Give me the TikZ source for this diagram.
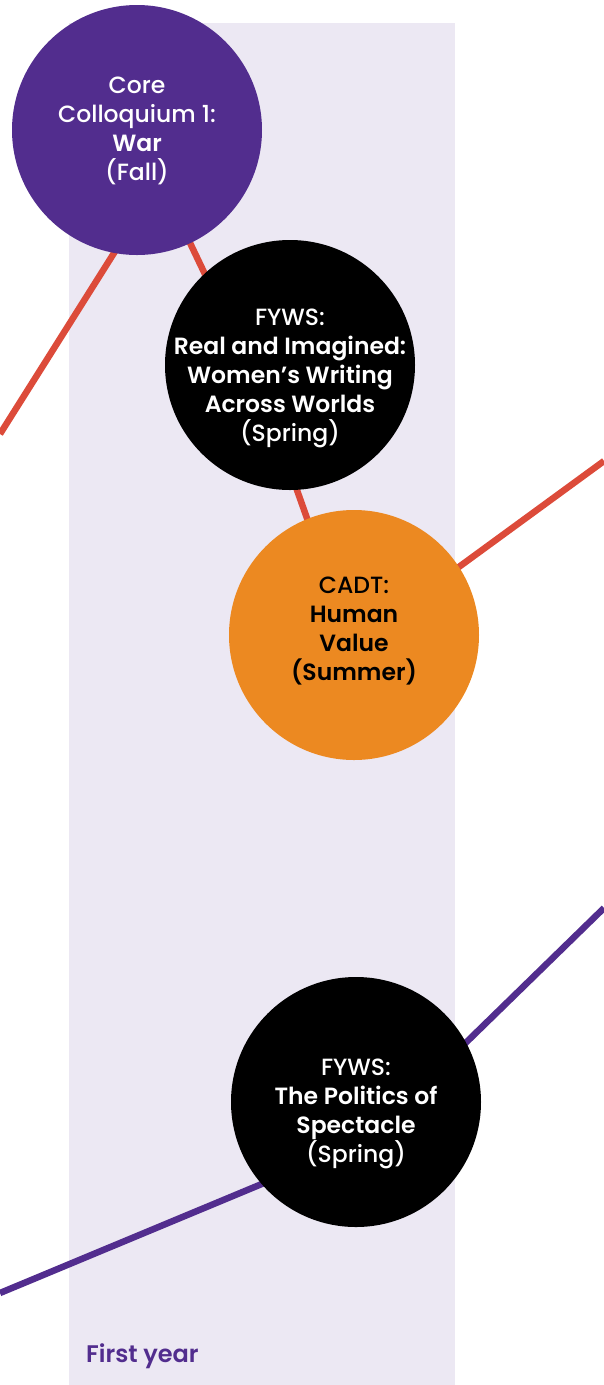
\documentclass[tikz,border=0pt]{standalone}
\usepackage{fontspec}
\setmainfont{Poppins}[UprightFont=* Medium, BoldFont=* SemiBold]
\usetikzlibrary{calc}
\definecolor{corepurple}{HTML}{522D8E}
\definecolor{trackred}{HTML}{DC4B3A}
\definecolor{cadtorange}{HTML}{EC8921}
\definecolor{yearband}{HTML}{ECE8F3}
\pgfdeclarelayer{band}
\pgfdeclarelayer{tracks}
\pgfsetlayers{band,tracks,main}

\begin{document}
\begin{tikzpicture}[x=1pt,y=-1pt,
    course/.style={circle, minimum size=250pt, inner sep=0pt},
    blurb/.style={align=center, text=white, font=\fontsize{23.5}{29}\selectfont},
    track/.style={line width=6.5pt}]
  \useasboundingbox (0,0) rectangle (604,1385);
  \begin{pgfonlayer}{band}
    \fill[yearband] (69,23) rectangle (455,1385);
  \end{pgfonlayer}
  \node[course,fill=corepurple,
    label={[blurb,yshift=-1pt]center:{Core\\Colloquium 1:\\\textbf{War}\\(Fall)}}] (war) at (137,130) {};
  \node[course,fill=black,
    label={[blurb,yshift=-13pt]center:{FYWS:\\\textbf{Real and Imagined:}\\\textbf{Women’s Writing}\\\textbf{Across Worlds}\\(Spring)}}] (women) at (290,365) {};
  \node[course,fill=cadtorange,
    label={[blurb,text=black,yshift=4pt]center:{CADT:\\\textbf{Human}\\\textbf{Value}\\\textbf{(Summer)}}}] (value) at (354,635) {};
  \node[course,fill=black,
    label={[blurb,yshift=-12pt]center:{FYWS:\\\textbf{The Politics of}\\\textbf{Spectacle}\\(Spring)}}] (spectacle) at (356,1102) {};
  \node[anchor=base west,inner sep=0pt,text=corepurple,font=\fontsize{24}{26}\selectfont\bfseries] (year) at (86,1362) {First year};
  % track ends and bends
  \coordinate (redin) at (0,434);
  \coordinate (redout) at (604,461);
  \coordinate (war-k) at ($(war)+(23,50)$);
  \coordinate (women-k) at ($(women)+(-25,35)$);
  \coordinate (value-k) at ($(value)+(-2,10)$);
  \coordinate (purplein) at (0,1293);
  \coordinate (purpleout) at (604,908);
  \coordinate (spectacle-k) at ($(spectacle)+(9,39)$);
  \begin{pgfonlayer}{tracks}
    \draw[track,trackred,line join=round] (redin) -- (war-k) -- (women-k) -- (value-k) -- (redout);
    \draw[track,corepurple,line join=round] (purplein) -- (spectacle-k) -- (purpleout);
  \end{pgfonlayer}
\end{tikzpicture}
\end{document}
